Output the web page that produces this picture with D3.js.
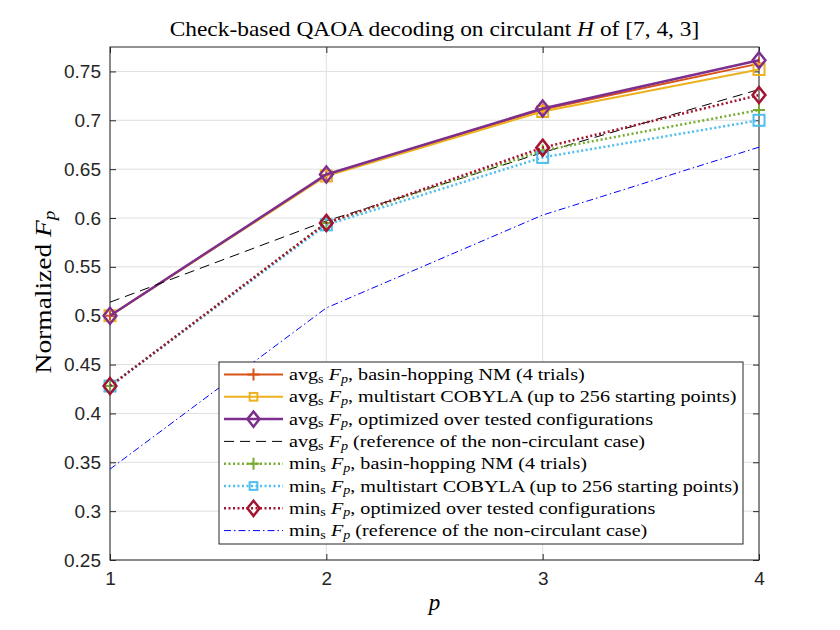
<!DOCTYPE html>
<html>
<head>
<meta charset="utf-8">
<script src="https://cdn.jsdelivr.net/npm/d3@7"></script>
<style>
  body { margin: 0; background: #fff; }
  .tick-label { font-family: "Liberation Sans", Arial, sans-serif; font-size: 19px; fill: #262626; }
  .serif { font-family: "Liberation Serif", "DejaVu Serif", serif; fill: #000; }
</style>
</head>
<body>
<div id="chart"></div>
<script>
// p values (QAOA depth)
const pValues = [1, 2, 3, 4];

// avg_s F_p series
const avgNM = [0.500, 0.644, 0.711, 0.758];
const avgCOBYLA = [0.500, 0.643, 0.709, 0.752];
const avgOpt = [0.500, 0.6445, 0.712, 0.7615];
const avgRef = [0.5138, 0.597, 0.667, 0.7315];

// min_s F_p series
const minNM = [0.428, 0.595, 0.669, 0.7105];
const minCOBYLA = [0.428, 0.593, 0.662, 0.700];
const minOpt = [0.428, 0.595, 0.672, 0.7258];
const minRef = [0.343, 0.508, 0.603, 0.6725];

const yTicks = [0.25, 0.3, 0.35, 0.4, 0.45, 0.5, 0.55, 0.6, 0.65, 0.7, 0.75];
const yTickLabels = ['0.25', '0.3', '0.35', '0.4', '0.45', '0.5', '0.55', '0.6', '0.65', '0.7', '0.75'];

const legendLabels = [
  [['avg'], ['s', 'sub'], [' '], ['F', 'i'], ['p', 'subi'], [', basin-hopping NM (4 trials)']],
  [['avg'], ['s', 'sub'], [' '], ['F', 'i'], ['p', 'subi'], [', multistart COBYLA (up to 256 starting points)']],
  [['avg'], ['s', 'sub'], [' '], ['F', 'i'], ['p', 'subi'], [', optimized over tested configurations']],
  [['avg'], ['s', 'sub'], [' '], ['F', 'i'], ['p', 'subi'], [' (reference of the non-circulant case)']],
  [['min'], ['s', 'sub'], [' '], ['F', 'i'], ['p', 'subi'], [', basin-hopping NM (4 trials)']],
  [['min'], ['s', 'sub'], [' '], ['F', 'i'], ['p', 'subi'], [', multistart COBYLA (up to 256 starting points)']],
  [['min'], ['s', 'sub'], [' '], ['F', 'i'], ['p', 'subi'], [', optimized over tested configurations']],
  [['min'], ['s', 'sub'], [' '], ['F', 'i'], ['p', 'subi'], [' (reference of the non-circulant case)']]
];

const series = [
  { values: avgNM, color: '#D95319', width: 2, dash: null, marker: 'plus' },
  { values: avgCOBYLA, color: '#EDB120', width: 2, dash: null, marker: 'square' },
  { values: avgOpt, color: '#7E2F8E', width: 2.5, dash: null, marker: 'diamond' },
  { values: avgRef, color: '#000000', width: 1, dash: '10,6', marker: null },
  { values: minNM, color: '#77AC30', width: 2.5, dash: '2,2.5', marker: 'plus' },
  { values: minCOBYLA, color: '#4DBEEE', width: 2.5, dash: '2,2.5', marker: 'square' },
  { values: minOpt, color: '#A2142F', width: 2.5, dash: '2,2.5', marker: 'diamond' },
  { values: minRef, color: '#0000FF', width: 1, dash: '7,3,1.5,3', marker: null }
];

const W = 840, H = 630;
const margin = { top: 47, right: 81, bottom: 70, left: 110 };
const width = W - margin.left - margin.right;
const height = H - margin.top - margin.bottom;

const svg = d3.select('#chart').append('svg')
  .attr('width', W)
  .attr('height', H);

const g = svg.append('g')
  .attr('transform', 'translate(' + margin.left + ',' + margin.top + ')');

const x = d3.scaleLinear().domain([1, 4]).range([0, width]);
const y = d3.scaleLinear().domain([0.25, 0.775]).range([height, 0]);

// rich text helper (subscripts / italics)
const richText = (sel, parts, size) => {
  parts.forEach(([t, kind]) => {
    const ts = sel.append('tspan').text(t);
    if (kind === 'i') ts.attr('font-style', 'italic');
    if (kind === 'sub' || kind === 'subi') {
      ts.attr('font-size', size * 0.7).attr('baseline-shift', '-22%');
      if (kind === 'subi') ts.attr('font-style', 'italic');
    }
  });
};

// Times is narrower than Computer Modern: stretch horizontally
const stretch = (wrap, sx) => {
  const base = wrap.attr('data-base');
  wrap.attr('transform', base + ' scale(' + sx + ',1)');
};

// grid
g.append('g').selectAll('line').data(pValues).enter().append('line')
  .attr('x1', (d) => x(d)).attr('x2', (d) => x(d))
  .attr('y1', 0).attr('y2', height)
  .attr('stroke', '#dfdfdf').attr('stroke-width', 1);

g.append('g').selectAll('line').data(yTicks).enter().append('line')
  .attr('x1', 0).attr('x2', width)
  .attr('y1', (d) => y(d)).attr('y2', (d) => y(d))
  .attr('stroke', '#dfdfdf').attr('stroke-width', 1);

// axes (ticks pointing inward, MATLAB style)
const xAxis = g.append('g')
  .attr('transform', 'translate(0,' + height + ')')
  .call(d3.axisBottom(x).tickValues(pValues).tickFormat(d3.format('d')).tickSizeInner(-6).tickSizeOuter(0).tickPadding(12));
const xAxisTop = g.append('g')
  .call(d3.axisTop(x).tickValues(pValues).tickFormat('').tickSizeInner(-6).tickSizeOuter(0));
const yAxis = g.append('g')
  .call(d3.axisLeft(y).tickValues(yTicks).tickFormat((d, i) => yTickLabels[i]).tickSizeInner(-6).tickSizeOuter(0).tickPadding(9));
const yAxisRight = g.append('g')
  .attr('transform', 'translate(' + width + ',0)')
  .call(d3.axisRight(y).tickValues(yTicks).tickFormat('').tickSizeInner(-6).tickSizeOuter(0));

[xAxis, xAxisTop, yAxis, yAxisRight].forEach((a) => {
  a.select('.domain').remove();
  a.selectAll('.tick line').attr('stroke', '#262626');
  a.selectAll('.tick text').attr('class', 'tick-label').attr('font-family', null).attr('font-size', null);
});
xAxis.selectAll('.tick text').attr('dy', '0.71em');

// box
g.append('rect')
  .attr('x', 0).attr('y', 0).attr('width', width).attr('height', height)
  .attr('fill', 'none').attr('stroke', '#262626').attr('stroke-width', 1);

// markers
const drawMarker = (sel, type, cx, cy, color, scale) => {
  const s = scale || 1;
  if (type === 'plus') {
    sel.append('path')
      .attr('d', 'M' + (cx - 6 * s) + ',' + cy + 'H' + (cx + 6 * s) + 'M' + cx + ',' + (cy - 6 * s) + 'V' + (cy + 6 * s))
      .attr('stroke', color).attr('stroke-width', 2).attr('fill', 'none');
  } else if (type === 'square') {
    sel.append('rect')
      .attr('x', cx - 5.5 * s).attr('y', cy - 5.5 * s).attr('width', 11 * s).attr('height', 11 * s)
      .attr('stroke', color).attr('stroke-width', 2).attr('fill', 'none');
  } else if (type === 'diamond') {
    const r = 8 * s;
    sel.append('path')
      .attr('d', 'M' + cx + ',' + (cy - r) + 'L' + (cx + r * 0.8) + ',' + cy + 'L' + cx + ',' + (cy + r) + 'L' + (cx - r * 0.8) + ',' + cy + 'Z')
      .attr('stroke', color).attr('stroke-width', 2.5).attr('fill', 'none');
  }
};

const line = d3.line().x((d, i) => x(pValues[i])).y((d) => y(d));

const plot = g.append('g');
series.forEach((s) => {
  const sg = plot.append('g');
  sg.append('path')
    .datum(s.values)
    .attr('d', line)
    .attr('fill', 'none')
    .attr('stroke', s.color)
    .attr('stroke-width', s.width)
    .attr('stroke-dasharray', s.dash);
  if (s.marker) {
    s.values.forEach((v, i) => drawMarker(sg, s.marker, x(pValues[i]), y(v), s.color));
  }
});

// title
const titleWrap = svg.append('g')
  .attr('data-base', 'translate(' + (margin.left + width / 2) + ',36)');
const title = titleWrap.append('text')
  .attr('class', 'serif')
  .attr('text-anchor', 'middle')
  .attr('font-size', 22);
richText(title, [['Check-based QAOA decoding on circulant '], ['H', 'i'], [' of [7, 4, 3]']], 22);
stretch(titleWrap, 530 / title.node().getComputedTextLength());

// x label
svg.append('text')
  .attr('class', 'serif')
  .attr('x', margin.left + width / 2)
  .attr('y', 610)
  .attr('text-anchor', 'middle')
  .attr('font-size', 23)
  .attr('font-style', 'italic')
  .text('p');

// y label
const ylabWrap = svg.append('g')
  .attr('data-base', 'translate(51,292) rotate(-90)');
const ylab = ylabWrap.append('text')
  .attr('class', 'serif')
  .attr('text-anchor', 'middle')
  .attr('font-size', 23);
richText(ylab, [['Normalized '], ['F', 'i'], ['p', 'subi']], 23);
stretch(ylabWrap, 163 / ylab.node().getComputedTextLength());

// legend
const lg = svg.append('g');
const lx = 219, ly = 362, lw = 524, lh = 182, rowH = 22.3;
lg.append('rect')
  .attr('x', lx).attr('y', ly).attr('width', lw).attr('height', lh)
  .attr('fill', '#fff').attr('stroke', '#262626').attr('stroke-width', 1);

const legendTexts = [];
series.forEach((s, i) => {
  const cy = ly + 12.5 + i * rowH;
  lg.append('line')
    .attr('x1', lx + 5).attr('x2', lx + 64)
    .attr('y1', cy).attr('y2', cy)
    .attr('stroke', s.color)
    .attr('stroke-width', s.width)
    .attr('stroke-dasharray', s.dash);
  if (s.marker) drawMarker(lg, s.marker, lx + 34.5, cy, s.color, s.marker === 'square' ? 0.7 : (s.marker === 'plus' ? 1 : 0.95));
  const wrap = lg.append('g').attr('data-base', 'translate(' + (lx + 70) + ',' + (cy + 5.5) + ')');
  const t = wrap.append('text')
    .attr('class', 'serif')
    .attr('font-size', 16.5);
  richText(t, legendLabels[i], 16.5);
  legendTexts.push({ wrap, t });
});
// widest entry (COBYLA) should span 448 px like the reference
const legendScale = 448 / legendTexts[1].t.node().getComputedTextLength();
legendTexts.forEach((d) => stretch(d.wrap, legendScale));
</script>
</body>
</html>
